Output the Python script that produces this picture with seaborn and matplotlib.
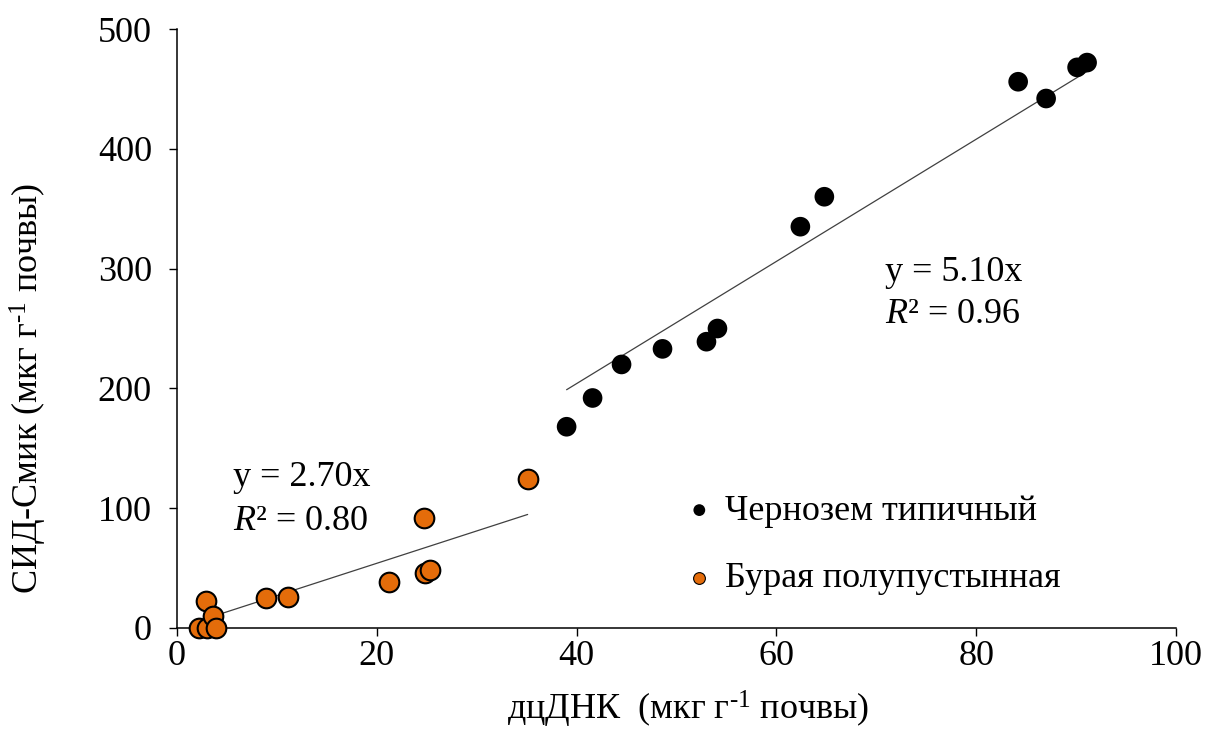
import numpy as np
import pandas as pd
import matplotlib
matplotlib.use("Agg")
import matplotlib.pyplot as plt
import seaborn as sns

# Чернозем типичный
chern_x = [39.0, 41.6, 44.5, 48.6, 53.0, 54.1, 62.4, 64.8, 84.2, 87.0, 90.1, 91.1]
chern_y = [168, 192, 220, 233, 239, 250, 335, 360, 456, 442, 468, 472]

# Бурая полупустынная
bur_x = [2.2, 2.9, 3.0, 3.6, 3.9, 8.9, 11.1, 21.2, 24.7, 24.8, 25.3, 35.1]
bur_y = [0, 22.5, 0, 10, 0, 24.8, 25.6, 38, 91.5, 46, 48.4, 124]

soil_labels = ["Чернозем типичный", "Бурая полупустынная"]
soil_colors = ["#000000", "#E46C0A"]
slopes = [5.10, 2.70]
r2 = [0.96, 0.80]

df = pd.DataFrame({
    "x": chern_x + bur_x,
    "y": chern_y + bur_y,
    "soil": [soil_labels[0]] * len(chern_x) + [soil_labels[1]] * len(bur_x),
})

sns.set_style("ticks", {"text.color": "black", "axes.labelcolor": "black",
                        "xtick.color": "black", "ytick.color": "black",
                        "axes.edgecolor": "black"})
plt.rcParams["font.family"] = ["Liberation Serif", "DejaVu Serif"]
plt.rcParams["mathtext.fontset"] = "custom"
plt.rcParams["mathtext.rm"] = "Liberation Serif"
plt.rcParams["mathtext.it"] = "Liberation Serif:italic"
fs = 26

fig = plt.figure(figsize=(12.09, 7.35), dpi=100)
ax = fig.add_axes([0.1464, 0.1456, 0.8263, 0.8149])

# trend lines (through origin) over each data range
for xs, k in [(chern_x, slopes[0]), (bur_x, slopes[1])]:
    xl = np.array([min(xs), max(xs)])
    ax.plot(xl, k * xl, color="#404040", lw=0.9, zorder=1)

for lab, col in zip(soil_labels, soil_colors):
    sub = df[df["soil"] == lab]
    ec = "none" if col == "#000000" else "black"
    sns.scatterplot(data=sub, x="x", y="y", color=col, edgecolor=ec,
                    linewidth=1.5, s=200, ax=ax, label=lab, zorder=3,
                    clip_on=False)

ax.text(70.9, 297, f"y = {slopes[0]:.2f}x", fontsize=fs, ha="left", va="center")
ax.text(70.9, 262, f"$R$² = {r2[0]:.2f}", fontsize=fs, ha="left", va="center")
ax.text(5.6, 126, f"y = {slopes[1]:.2f}x", fontsize=fs, ha="left", va="center")
ax.text(5.6, 89, f"$R$² = {r2[1]:.2f}", fontsize=fs, ha="left", va="center")

ax.set_xlim(0, 100)
ax.set_ylim(0, 500)
ax.set_xticks(range(0, 101, 20))
ax.set_yticks(range(0, 501, 100))
ax.tick_params(axis="both", labelsize=fs, direction="out", length=6, width=1, colors="black")
ax.tick_params(axis="y", pad=12)
ax.tick_params(axis="x", pad=3)
for s in ["left", "bottom"]:
    ax.spines[s].set_linewidth(1.1)
sns.despine(ax=ax)

ax.set_xlabel(r"дцДНК  (мкг г$^{\text{-1}}$ почвы)", fontsize=fs)
ax.set_ylabel(r"СИД-Смик (мкг г$^{\text{-1}}$ почвы)", fontsize=fs)
ax.xaxis.set_label_coords(0.512, -0.102)
ax.yaxis.set_label_coords(-0.128, 0.40)

leg = ax.legend(loc="center left", bbox_to_anchor=(0.512, 0.139), frameon=False,
                fontsize=fs, markerscale=0.6, handlelength=0.6, handletextpad=0.4,
                labelspacing=0.95, borderpad=0, borderaxespad=0)
for h in leg.legend_handles:
    h.set_linewidth(0.8)

fig.savefig("out.png", dpi=100)
